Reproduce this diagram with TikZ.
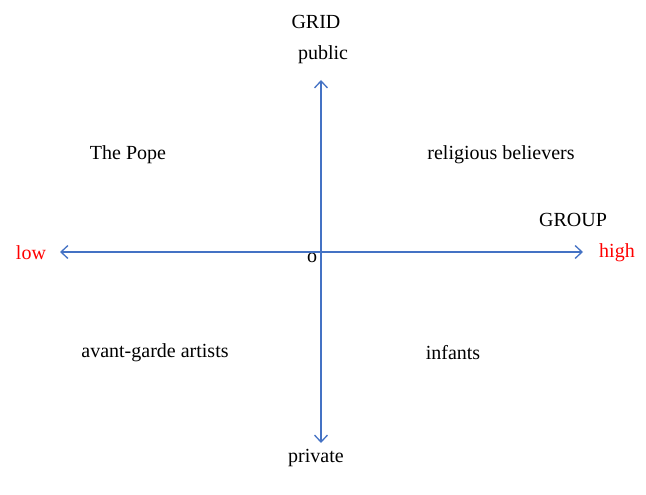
\documentclass[tikz,border=0pt]{standalone}
\usepackage{fontspec}
\setmainfont{Liberation Serif}
\usetikzlibrary{arrows.meta,positioning}
\definecolor{axisblue}{RGB}{68,114,196}
\begin{document}
\begin{tikzpicture}[x=1pt, y=-1pt, on grid, font=\fontsize{20}{24}\selectfont,
	axis/.style={draw=axisblue, line width=1.3pt, -{Straight Barb[length=7pt,width=13pt]}},
	lbl/.style={inner sep=0pt, text=black},
	endlbl/.style={inner sep=0pt, text=red}]
	\useasboundingbox (0,0) rectangle (646,495);
			\coordinate (origin) at (321,252);
			\coordinate (top)    at (321,80);
			\coordinate (bottom) at (321,443);
			\coordinate (left)   at (60,252);
			\coordinate (right)  at (583,252);
			\node[lbl]    (grid)    at (316,22)  {GRID};
			\node[lbl]    (public)  at (323,55)  {public};
			\node[lbl]    (private) at (316,458) {private};
			\node[endlbl] (low)     at (31,253)  {low};
			\node[endlbl] (high)    at (617,253) {high};
			\node[lbl]    (group)   at (573,220) {GROUP};
			\node[lbl]    (zero)    at (312,258) {o};
			\node[lbl]    (pope)     at (128,155) {The Pope};
			\node[lbl]    (believers) at (501,155) {religious believers};
			\node[lbl]    (artists)  at (155,353) {avant-garde artists};
			\node[lbl]    (infants)  at (453,353) {infants};
				\draw[axis] (origin) -- (top);
				\draw[axis] (origin) -- (bottom);
				\draw[axis] (origin) -- (left);
				\draw[axis] (origin) -- (right);
		\end{tikzpicture}
\end{document}
